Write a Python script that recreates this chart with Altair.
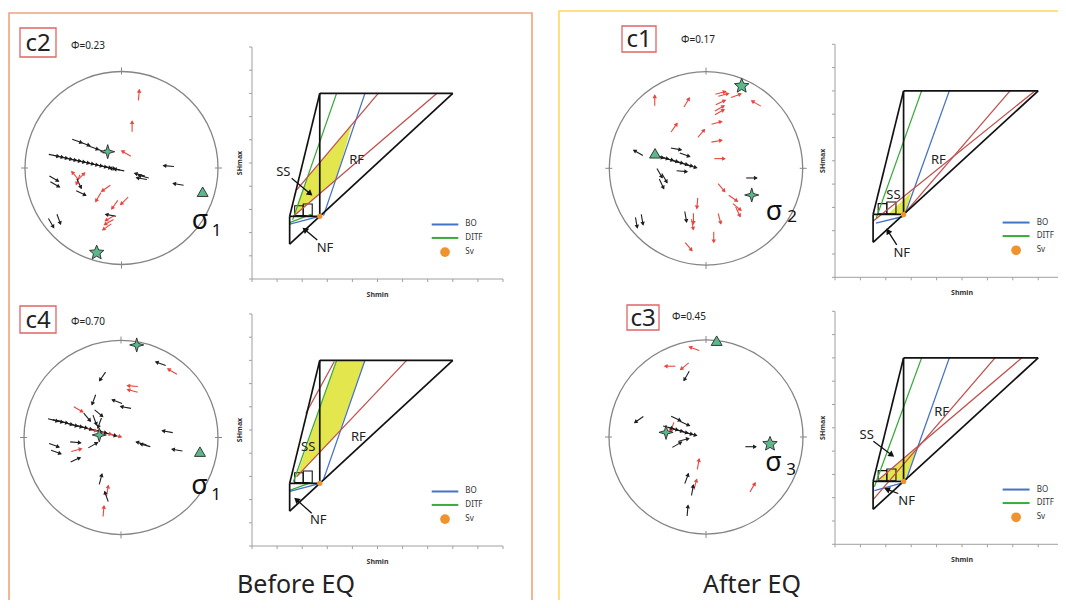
import math
import altair as alt
import pandas as pd

# ------------------------------------------------------------------ data
PANELS = ["c2", "c4", "c1", "c3"]
PHI = {"c2": "Φ=0.23", "c4": "Φ=0.70", "c1": "Φ=0.17", "c3": "Φ=0.45"}
SIGMA = {"c2": "1", "c4": "1", "c1": "2", "c3": "3"}
GROUP_TITLES = ["Before EQ", "After EQ"]
LEGEND_LABELS = ["BO", "DITF", "Sv"]
AXIS_TITLES = ["Shmin", "SHmax"]

# stereonet slip arrows: (east, north) in unit-circle coords, azimuth (deg), kind k=black r=red
ARROWS_C2 = [
    (0.18, 0.755, 5, "r"), (0.11, 0.43, 0, "r"), (0.05, 0.15, 300, "r"),
    (-0.48, -0.08, 320, "r"), (-0.42, -0.09, 45, "r"), (-0.45, -0.12, 200, "r"),
    (-0.16, -0.21, 235, "r"), (-0.24, -0.30, 210, "r"), (0.03, -0.34, 225, "r"),
    (-0.07, -0.38, 215, "r"), (-0.12, -0.52, 240, "r"), (-0.13, -0.56, 240, "r"),
    (-0.15, -0.61, 235, "r"),
    (-0.70, 0.13, 102, "k"), (-0.655, 0.12, 102, "k"), (-0.61, 0.11, 102, "k"),
    (-0.565, 0.10, 102, "k"), (-0.52, 0.09, 102, "k"), (-0.475, 0.08, 102, "k"),
    (-0.43, 0.07, 102, "k"), (-0.385, 0.06, 102, "k"), (-0.34, 0.05, 102, "k"),
    (-0.295, 0.04, 102, "k"), (-0.25, 0.03, 102, "k"), (-0.205, 0.02, 102, "k"),
    (-0.16, 0.01, 102, "k"), (-0.115, 0.0, 102, "k"), (-0.07, -0.01, 280, "k"),
    (-0.025, -0.02, 280, "k"),
    (-0.46, 0.28, 110, "k"), (-0.38, 0.25, 110, "k"), (-0.29, 0.21, 110, "k"),
    (-0.21, 0.18, 110, "k"),
    (0.19, -0.07, 285, "k"), (0.23, -0.09, 285, "k"), (0.21, -0.11, 280, "k"),
    (0.49, 0.02, 275, "k"), (0.59, -0.17, 280, "k"), (-0.70, -0.11, 120, "k"),
    (-0.69, -0.17, 120, "k"), (-0.44, -0.16, 155, "k"), (-0.42, -0.26, 115, "k"),
    (-0.65, -0.53, 160, "k"), (-0.73, -0.57, 150, "k"), (-0.11, -0.49, 280, "k"),
]
ARROWS_C4 = [
    (0.53, 0.68, 300, "r"), (0.12, 0.53, 275, "r"), (0.12, 0.48, 285, "r"),
    (-0.44, 0.29, 120, "r"), (-0.46, -0.13, 75, "r"), (-0.14, -0.55, 10, "r"),
    (-0.18, -0.76, 5, "r"),
    (0.41, 0.76, 290, "k"), (-0.19, 0.63, 215, "k"), (-0.28, 0.39, 200, "k"),
    (-0.04, 0.37, 290, "k"), (0.05, 0.31, 280, "k"),
    (-0.70, 0.18, 105, "k"), (-0.65, 0.17, 105, "k"), (-0.60, 0.16, 105, "k"),
    (-0.55, 0.145, 105, "k"), (-0.50, 0.13, 105, "k"), (-0.45, 0.12, 105, "k"),
    (-0.40, 0.11, 105, "k"), (-0.35, 0.095, 105, "k"), (-0.30, 0.08, 105, "r"),
    (-0.25, 0.07, 105, "k"), (-0.20, 0.06, 105, "k"), (-0.15, 0.045, 105, "r"),
    (-0.10, 0.03, 105, "k"), (-0.05, 0.02, 105, "r"),
    (-0.35, 0.21, 140, "k"), (-0.27, 0.18, 160, "k"), (-0.22, 0.15, 200, "k"),
    (-0.23, 0.25, 130, "k"), (0.21, -0.06, 285, "k"), (0.25, -0.08, 285, "k"),
    (0.48, 0.06, 280, "k"), (0.58, -0.13, 280, "k"), (-0.69, -0.08, 110, "k"),
    (-0.67, -0.15, 110, "k"), (-0.47, -0.05, 95, "k"), (-0.47, -0.23, 65, "k"),
    (-0.29, -0.08, 60, "k"), (-0.21, -0.43, 15, "k"), (-0.15, -0.61, 340, "k"),
]
ARROWS_C1 = [
    (-0.53, 0.70, 0, "r"), (-0.20, 0.68, 30, "r"), (-0.33, 0.42, 35, "r"),
    (-0.05, 0.36, 40, "r"), (0.15, 0.78, 75, "r"), (0.18, 0.76, 75, "r"),
    (0.31, 0.75, 70, "r"), (0.52, 0.67, 300, "r"), (0.15, 0.68, 65, "r"),
    (0.14, 0.62, 60, "r"), (0.14, 0.58, 60, "r"), (0.11, 0.47, 75, "r"),
    (0.11, 0.28, 80, "r"), (0.14, 0.10, 90, "r"), (0.16, -0.20, 140, "r"),
    (0.28, -0.31, 125, "r"), (0.32, -0.40, 130, "r"), (0.33, -0.45, 155, "r"),
    (-0.09, -0.36, 185, "r"), (-0.13, -0.52, 180, "r"), (-0.14, -0.58, 170, "r"),
    (0.14, -0.52, 165, "r"), (0.08, -0.71, 180, "r"), (-0.18, -0.81, 140, "r"),
    (-0.70, 0.16, 300, "k"),
    (-0.49, 0.12, 105, "k"), (-0.44, 0.11, 105, "k"), (-0.39, 0.095, 105, "k"),
    (-0.34, 0.08, 105, "k"), (-0.29, 0.065, 105, "k"), (-0.24, 0.05, 105, "k"),
    (-0.19, 0.035, 105, "k"), (-0.15, 0.02, 105, "k"),
    (-0.31, 0.20, 100, "k"), (-0.22, 0.14, 110, "k"), (-0.48, -0.05, 150, "k"),
    (-0.43, -0.10, 150, "k"), (-0.46, -0.16, 155, "k"), (-0.25, -0.03, 95, "k"),
    (0.47, -0.10, 90, "k"), (-0.72, -0.56, 170, "k"), (-0.66, -0.53, 170, "k"),
    (-0.21, -0.50, 170, "k"),
]
ARROWS_C3 = [
    (-0.12, 0.91, 290, "r"), (-0.37, 0.73, 270, "r"), (-0.22, 0.73, 230, "r"),
    (-0.35, 0.10, 200, "r"), (-0.08, -0.28, 10, "r"), (-0.11, -0.49, 15, "r"),
    (0.48, -0.52, 30, "r"),
    (-0.20, 0.63, 210, "k"), (-0.69, 0.18, 235, "k"), (-0.31, 0.19, 115, "k"),
    (-0.22, 0.14, 115, "k"),
    (-0.39, 0.10, 105, "k"), (-0.34, 0.085, 105, "k"), (-0.29, 0.07, 105, "k"),
    (-0.24, 0.055, 105, "k"), (-0.19, 0.04, 105, "k"), (-0.15, 0.03, 105, "k"),
    (-0.30, -0.08, 60, "k"), (-0.23, -0.03, 75, "k"), (0.46, -0.10, 90, "k"),
    (-0.20, -0.43, 20, "k"), (-0.14, -0.55, 10, "k"), (-0.19, -0.76, 5, "k"),
]
ARROWS = {"c2": ARROWS_C2, "c4": ARROWS_C4, "c1": ARROWS_C1, "c3": ARROWS_C3}

# principal stress axes on the nets: (east, north, symbol)
AXES_PTS = {
    "c2": [(-0.143, 0.169, "star4"), (-0.257, -0.878, "star5"), (0.841, -0.246, "tri")],
    "c4": [(0.162, 0.954, "star4"), (-0.224, 0.026, "star4"), (0.814, -0.146, "tri")],
    "c1": [(0.369, 0.851, "star5"), (0.473, -0.276, "star4"), (-0.527, 0.155, "tri")],
    "c3": [(0.110, 0.993, "tri"), (-0.412, 0.048, "star4"), (0.660, -0.072, "star5")],
}

# stress polygon (axis units 0-100): Shmin (x) vs SHmax (y)
SV = 27.0
SHMIN_MIN = 15.0
SHMAX_MAX = 80.0
SMALL_BOXES = [(17.0, 27.3, 20.4, 31.6), (20.4, 27.3, 24.0, 32.3)]

# constraint lines: (kind, x1, y1, x2, y2)
LINES = {
    "c2": [("DITF", 16.2, 25.5, 33.7, 80.0), ("DITF", 15.0, 24.3, 23.8, 28.0),
           ("BO", 28.5, 27.3, 45.0, 80.0), ("BO", 15.1, 23.7, 26.4, 26.9),
           ("FL", 17.8, 38.4, 50.3, 80.0), ("FL", 16.6, 27.2, 73.6, 80.0)],
    "c4": [("DITF", 16.5, 27.7, 33.7, 80.0), ("DITF", 15.0, 24.0, 24.0, 27.5),
           ("BO", 28.4, 28.4, 45.0, 80.0), ("BO", 15.1, 23.5, 26.4, 26.8),
           ("FL", 21.5, 57.2, 32.8, 79.5), ("FL", 17.8, 29.9, 61.6, 80.0)],
    "c1": [("DITF", 16.2, 25.3, 34.1, 80.0),
           ("BO", 27.6, 27.2, 45.0, 80.0), ("BO", 16.1, 23.3, 27.2, 26.2),
           ("FL", 27.2, 27.2, 68.9, 80.0), ("FL", 15.1, 24.2, 78.7, 80.0)],
    "c3": [("DITF", 15.5, 24.7, 34.1, 80.0),
           ("BO", 28.0, 27.6, 45.0, 80.0), ("BO", 15.5, 23.0, 27.0, 26.5),
           ("FL", 15.1, 19.3, 63.0, 80.0), ("FL", 17.0, 27.6, 73.5, 80.0)],
}
# allowed stress region (yellow)
ALLOWED = {
    "c2": [(39.7, 66.2), (33.6, 43.0), (16.6, 27.2), (22.0, 43.8)],
    "c4": [(33.7, 80.0), (45.0, 80.0), (34.8, 49.3), (17.5, 29.2)],
    "c1": [(21.0, 27.2), (30.0, 36.5), (27.6, 27.2)],
    "c3": [(17.0, 27.6), (32.2, 41.2), (27.6, 27.6)],
}
# regime labels (in stress units) and pointer arrows
REGIME_LABELS = {
    "c2": [("SS", 12.5, 46.3), ("RF", 41.7, 51.3), ("NF", 29.1, 13.2)],
    "c4": [("SS", 22.4, 42.8), ("RF", 42.4, 47.1), ("NF", 26.4, 11.2)],
    "c1": [("SS", 23.0, 35.3), ("RF", 40.7, 50.3), ("NF", 26.3, 10.3)],
    "c3": [("SS", 12.5, 47.1), ("RF", 42.0, 56.9), ("NF", 28.2, 18.6)],
}
POINTERS = {
    "c2": [(15.8, 43.4, 23.8, 36.2), (26.0, 16.8, 20.4, 21.9)],
    "c4": [(23.8, 14.1, 17.1, 20.6)],
    "c1": [(24.3, 13.9, 20.4, 20.6)],
    "c3": [(15.1, 44.2, 23.0, 37.8), (24.9, 21.8, 19.7, 23.9)],
}

# ------------------------------------------------------------------ layout / style
NET = {"c2": (121.5, 168.0, 96.5), "c4": (121.0, 437.5, 97.0),
       "c1": (706.0, 168.3, 96.7), "c3": (706.0, 437.0, 97.0)}
POLY = {"c2": (252.0, 279.0, 2.51, 2.32), "c4": (252.0, 546.0, 2.51, 2.32),
        "c1": (835.0, 277.3, 2.54, 2.33), "c3": (835.0, 544.3, 2.54, 2.33)}
LEGEND_X = {"c2": 71.6, "c4": 71.6, "c1": 66.0, "c3": 66.0}
LABEL_BOX = {"c2": (20, 28, 56, 57), "c4": (20, 306, 56, 333),
             "c1": (622, 26, 656, 52), "c3": (627, 305, 659, 330)}
PHI_POS = {"c2": (71, 46), "c4": (71, 322), "c1": (681, 40), "c3": (672, 317)}
SIGMA_POS = {"c2": (200, 228.5, 216.5, 235.5), "c4": (199.5, 493.5, 216, 500),
             "c1": (774, 220, 792, 222), "c3": (773.5, 470.7, 791, 475)}
TITLE_POS = [(296, 593), (752, 593)]

RED, BLACK = "#e8463e", "#1e1e1e"
LINE_COL = {"DITF": "#3aaa3a", "BO": "#4472c4", "FL": "#c0504d"}
GREEN = "#5cb88a"
YELLOW = "#e4e64e"
ORANGE = "#f0922e"
FONT = "Noto Sans"

segs, heads, marks, areas, dots, rings, rects, texts = [], [], [], [], [], [], [], []


def seg(x1, y1, x2, y2, color, sw):
    segs.append(dict(x=x1, y=y1, x2=x2, y2=y2, color=color, sw=sw))


def head(x1, y1, x2, y2, color, size, back=1.5):
    dx, dy = x2 - x1, y2 - y1
    n = math.hypot(dx, dy) or 1.0
    ang = math.degrees(math.atan2(dx, -dy)) % 360
    heads.append(dict(x=x2 - back * dx / n, y=y2 - back * dy / n, angle=ang, color=color, size=size))


def text(x, y, t, size, color="#222", align="center", baseline="middle", angle=0, weight="normal"):
    texts.append(dict(x=x, y=y, text=t, size=size, color=color, align=align,
                      baseline=baseline, angle=angle, weight=weight))


def star_path(n, inner):
    pts = []
    for k in range(2 * n):
        a = math.radians(-90 + k * 180.0 / n)
        r = 1.0 if k % 2 == 0 else inner
        pts.append(f"{r * math.cos(a):.3f},{r * math.sin(a):.3f}")
    return "M" + " L".join(pts) + " Z"


SHAPES = {"star5": (star_path(5, 0.45), 230), "star4": (star_path(4, 0.32), 200),
          "tri": ("triangle-up", 120)}

# frames
rects.append(dict(x=9, y=13, x2=532, y2=640, color="#f2a37a", sw=1.6))
rects.append(dict(x=559, y=11, x2=1100, y2=640, color="#ffd75e", sw=1.6))

for gt, (tx, ty) in zip(GROUP_TITLES, TITLE_POS):
    text(tx, ty, gt, 25, "#222", baseline="alphabetic")

for p in PANELS:
    # --- stereonet
    cx, cy, r = NET[p]
    rings.append(dict(x=cx, y=cy, size=(2 * r) ** 2))
    seg(cx, cy - r - 4, cx, cy - r + 3, "#8a8a8a", 1)
    seg(cx, cy + r - 3, cx, cy + r + 4, "#8a8a8a", 1)
    seg(cx - r - 4, cy, cx - r + 3, cy, "#8a8a8a", 1)
    seg(cx + r - 3, cy, cx + r + 4, cy, "#8a8a8a", 1)
    L = 10.5
    for xn, yn, az, kind in ARROWS[p]:
        col = RED if kind == "r" else BLACK
        mx, my = cx + r * xn, cy - r * yn
        ux, uy = math.sin(math.radians(az)), -math.cos(math.radians(az))
        x1, y1 = mx - ux * L / 2, my - uy * L / 2
        x2, y2 = mx + ux * L / 2, my + uy * L / 2
        seg(x1, y1, x2, y2, col, 1.1)
        head(x1, y1, x2, y2, col, 20)
    for xn, yn, sym in AXES_PTS[p]:
        shp, sz = SHAPES[sym]
        marks.append(dict(x=cx + r * xn, y=cy - r * yn, shape=shp, size=sz))
    sx, sy, sx1, sy1 = SIGMA_POS[p]
    text(sx, sy, "σ", 27, "#111", baseline="alphabetic")
    text(sx1, sy1, SIGMA[p], 17, "#111", baseline="alphabetic")
    bx1, by1, bx2, by2 = LABEL_BOX[p]
    rects.append(dict(x=bx1, y=by1, x2=bx2, y2=by2, color="#e06464", sw=1.3))
    text((bx1 + bx2) / 2, (by1 + by2) / 2 + 1, p, 24, "#222")
    px, py = PHI_POS[p]
    text(px, py, PHI[p], 10, "#222", align="left")

    # --- stress polygon
    x0, y0, kx, ky = POLY[p]

    def P(a, b):
        return x0 + a * kx, y0 - b * ky

    # axes
    seg(x0, y0, x0 + 100 * kx, y0, "#a0a0a0", 1)
    seg(x0, y0, x0, y0 - 100 * ky, "#a0a0a0", 1)
    for i in range(11):
        seg(x0 + 10 * i * kx, y0, x0 + 10 * i * kx, y0 + 3, "#a0a0a0", 1)
        seg(x0 - 3, y0 - 10 * i * ky, x0, y0 - 10 * i * ky, "#a0a0a0", 1)
    text(x0 + 50 * kx, y0 + 16, AXIS_TITLES[0], 7, "#333", weight="bold")
    text(x0 - 12, y0 - 50 * ky, AXIS_TITLES[1], 7, "#333", angle=270, weight="bold")

    # allowed region
    verts = ALLOWED[p]
    xs = sorted(set(v[0] for v in verts))
    for xv in xs:
        ys = []
        for i in range(len(verts)):
            (xa, ya), (xb, yb) = verts[i], verts[(i + 1) % len(verts)]
            if min(xa, xb) - 1e-9 <= xv <= max(xa, xb) + 1e-9:
                if abs(xb - xa) < 1e-9:
                    ys += [ya, yb]
                else:
                    ys.append(ya + (xv - xa) / (xb - xa) * (yb - ya))
        ax, ay = P(xv, min(ys))
        _, ay2 = P(xv, max(ys))
        areas.append(dict(x=ax, y=ay, y2=ay2, pid=p))

    # constraint lines
    for kind, a1, b1, a2, b2 in LINES[p]:
        (u1, v1), (u2, v2) = P(a1, b1), P(a2, b2)
        seg(u1, v1, u2, v2, LINE_COL[kind], 1.3)

    # frictional limit polygon
    outline = [((SHMIN_MIN, SHMIN_MIN), (SHMIN_MIN, SV)), ((SHMIN_MIN, SV), (SV, SHMAX_MAX)),
               ((SHMIN_MIN, SV), (SV, SV)), ((SV, SV), (SV, SHMAX_MAX)),
               ((SV, SHMAX_MAX), (SHMAX_MAX, SHMAX_MAX)), ((SHMIN_MIN, SHMIN_MIN), (SHMAX_MAX, SHMAX_MAX))]
    for (a1, b1), (a2, b2) in outline:
        (u1, v1), (u2, v2) = P(a1, b1), P(a2, b2)
        seg(u1, v1, u2, v2, "#111", 1.7)
    for a1, b1, a2, b2 in SMALL_BOXES:
        (u1, v1), (u2, v2) = P(a1, b2), P(a2, b1)
        rects.append(dict(x=u1, y=v1, x2=u2, y2=v2, color="#111", sw=1.1))
    u, v = P(SV, SV)
    dots.append(dict(x=u, y=v, size=28, color=ORANGE))

    for lab, a, b in REGIME_LABELS[p]:
        u, v = P(a, b)
        text(u, v, lab, 13, "#222")
    for a1, b1, a2, b2 in POINTERS[p]:
        (u1, v1), (u2, v2) = P(a1, b1), P(a2, b2)
        seg(u1, v1, u2 - (u2 - u1) * 0.15, v2 - (v2 - v1) * 0.15, "#111", 1.3)
        head(u1, v1, u2, v2, "#111", 45, back=3)

    # legend
    lx = LEGEND_X[p]
    for lab, kind, b in zip(LEGEND_LABELS, ["BO", "DITF", None], [23.5, 17.7, 11.6]):
        (u1, v1), (u2, _) = P(lx, b), P(lx + 10.6, b)
        if kind:
            seg(u1, v1, u2, v1, LINE_COL[kind], 2.0)
        else:
            dots.append(dict(x=(u1 + u2) / 2, y=v1, size=95, color=ORANGE))
        tx, _ = P(lx + 13.4, b)
        text(tx, v1, lab, 8, "#333", align="left")

# ------------------------------------------------------------------ chart
XS = alt.Scale(domain=[8, 1058], nice=False, zero=False)
YS = alt.Scale(domain=[8, 600], nice=False, zero=False, reverse=True)
X = alt.X("x:Q", scale=XS, axis=None)
Y = alt.Y("y:Q", scale=YS, axis=None)

layers = []
layers.append(alt.Chart(pd.DataFrame(areas)).mark_area(color=YELLOW, opacity=1, clip=True).encode(
    x=X, y=Y, y2="y2:Q", detail="pid:N"))
layers.append(alt.Chart(pd.DataFrame(rects)).mark_rect(filled=False, clip=True).encode(
    x=X, y=Y, x2="x2:Q", y2="y2:Q",
    stroke=alt.Stroke("color:N", scale=None),
    strokeWidth=alt.StrokeWidth("sw:Q", scale=None)))
layers.append(alt.Chart(pd.DataFrame(segs)).mark_rule(clip=True, strokeCap="butt").encode(
    x=X, y=Y, x2="x2:Q", y2="y2:Q",
    color=alt.Color("color:N", scale=None),
    strokeWidth=alt.StrokeWidth("sw:Q", scale=None)))
layers.append(alt.Chart(pd.DataFrame(rings)).mark_point(
    shape="circle", filled=False, color="#858585", strokeWidth=1.3, opacity=1, clip=True).encode(
    x=X, y=Y, size=alt.Size("size:Q", scale=None)))
layers.append(alt.Chart(pd.DataFrame(heads)).mark_point(
    shape="triangle", filled=True, opacity=1, clip=True).encode(
    x=X, y=Y, color=alt.Color("color:N", scale=None),
    size=alt.Size("size:Q", scale=None), angle=alt.Angle("angle:Q", scale=None)))
layers.append(alt.Chart(pd.DataFrame(marks)).mark_point(
    filled=True, fill=GREEN, stroke="#2a2a2a", strokeWidth=0.9, opacity=1, clip=True).encode(
    x=X, y=Y, shape=alt.Shape("shape:N", scale=None), size=alt.Size("size:Q", scale=None)))
layers.append(alt.Chart(pd.DataFrame(dots)).mark_point(
    shape="circle", filled=True, opacity=1, clip=True).encode(
    x=X, y=Y, color=alt.Color("color:N", scale=None), size=alt.Size("size:Q", scale=None)))

tdf = pd.DataFrame(texts)
for (al, bl, wt), g in tdf.groupby(["align", "baseline", "weight"]):
    layers.append(alt.Chart(g).mark_text(
        align=al, baseline=bl, fontWeight=wt, font=FONT, clip=True).encode(
        x=X, y=Y, text="text:N",
        size=alt.Size("size:Q", scale=None),
        color=alt.Color("color:N", scale=None),
        angle=alt.Angle("angle:Q", scale=None)))

chart = alt.layer(*layers).properties(
    width=1050, height=592, padding=0,
    autosize=alt.AutoSizeParams(type="fit", contains="padding"),
    background="white",
).configure_view(stroke=None)

chart.save("out.html", embed_options={"renderer": "svg", "actions": False})
